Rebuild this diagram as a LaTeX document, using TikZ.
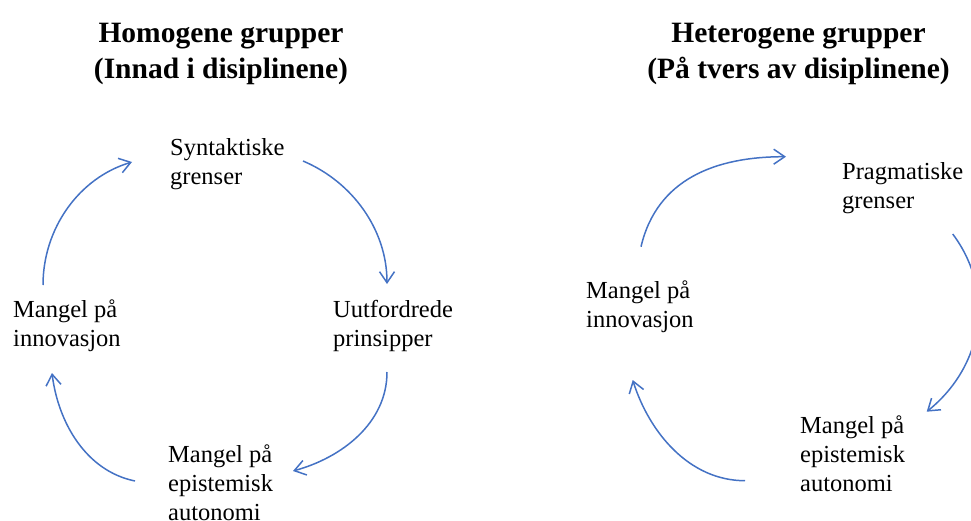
\documentclass[tikz,border=0pt]{standalone}
\usepackage{fontspec}
\setmainfont{Liberation Serif}
\usetikzlibrary{arrows.meta}
\definecolor{arrowblue}{RGB}{68,114,196}
\begin{document}
\begin{tikzpicture}[x=1pt,y=-1pt,
  lbl/.style={anchor=base west, inner sep=0pt, align=left, font=\fontsize{24.5}{29}\selectfont},
  ttl/.style={anchor=base, inner sep=0pt, align=center, font=\bfseries\fontsize{29.5}{36}\selectfont},
  cyc/.style={draw=arrowblue, line width=1.5pt, -{Straight Barb[length=11pt,width=15pt]}}]
\useasboundingbox (0,0) rectangle (971,521);
\clip (0,0) rectangle (971,521);
% titles (anchor = baseline of last line)
\node[ttl] (t1) at (221,79) {Homogene grupper\\(Innad i disiplinene)};
\node[ttl] (t2) at (798.5,79) {Heterogene grupper\\(På tvers av disiplinene)};
% left cycle
\node[lbl] (syn) at (170,185) {Syntaktiske\\grenser};
\node[lbl] (uut) at (333,346) {Uutfordrede\\prinsipper};
\node[lbl] (inn1) at (13,346) {Mangel på\\innovasjon};
\node[lbl] (epi1) at (168,520) {Mangel på\\epistemisk\\autonomi};
% right cycle
\node[lbl] (prag) at (842,209) {Pragmatiske\\grenser};
\node[lbl] (inn2) at (586,327.5) {Mangel på\\innovasjon};
\node[lbl] (epi2) at (800,491) {Mangel på\\epistemisk\\autonomi};
% arrow end points
\coordinate (a1s) at (43,285);   \coordinate (a1e) at (132,162);
\coordinate (a2s) at (303,161);  \coordinate (a2e) at (387,284);
\coordinate (a3s) at (387,372);  \coordinate (a3e) at (293,471);
\coordinate (a4s) at (135,481);  \coordinate (a4e) at (52,373);
\coordinate (aAs) at (641,246.7); \coordinate (aAe) at (786,156.7);
\coordinate (aBs) at (952.7,234); \coordinate (aBe) at (926.7,411.7);
\coordinate (aCs) at (745,480.7); \coordinate (aCe) at (632.7,380);
% arrows
\draw[cyc] (a1s) .. controls +(0,-56) and +(-53.5,16) .. (a1e);
\draw[cyc] (a2s) .. controls +(49.7,21) and +(0,-54) .. (a2e);
\draw[cyc] (a3s) .. controls +(0,51) and +(48.9,-13.4) .. (a3e);
\draw[cyc] (a4s) .. controls +(-49,-10) and +(6.2,49.6) .. (a4e);
\draw[cyc] (aAs) .. controls +(16,-68) and +(-70,0) .. (aAe);
\draw[cyc] (aBs) .. controls +(42,56) and +(58,-47) .. (aBe);
\draw[cyc] (aCs) .. controls +(-55.6,0) and +(16.7,52.8) .. (aCe);
\end{tikzpicture}
\end{document}
